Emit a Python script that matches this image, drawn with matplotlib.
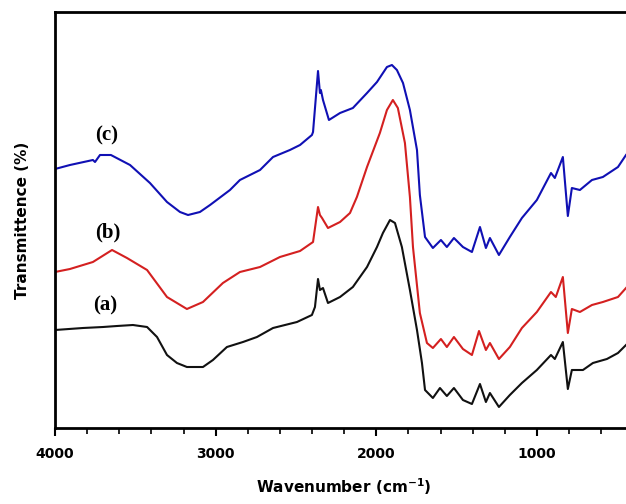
import matplotlib
matplotlib.use("Agg")
import matplotlib.pyplot as plt
from matplotlib.ticker import MultipleLocator, NullLocator

# Wavenumber (cm^-1) and transmittance (arbitrary units)
wn_c = [4000, 3907, 3764, 3751, 3720, 3652, 3533, 3409, 3303, 3222, 3172, 3098, 3035,
        2911, 2849, 2724, 2643, 2538, 2475, 2401, 2394, 2363, 2351, 2345, 2332, 2295,
        2226, 2146, 2058, 1996, 1934, 1903, 1872, 1834, 1791, 1747, 1729, 1697, 1648,
        1598, 1561, 1517, 1461, 1405, 1355, 1318, 1293, 1237, 1169, 1094, 1001, 913,
        889, 839, 808, 783, 733, 658, 590, 496, 446]
t_c = [259, 263, 268, 266, 273, 273, 263, 245, 226, 216, 213, 216, 223,
       238, 248, 258, 271, 278, 283, 293, 296, 357, 335, 338, 328, 308,
       315, 320, 335, 346, 361, 363, 358, 345, 318, 278, 233, 191, 180,
       188, 181, 190, 181, 176, 201, 180, 190, 173, 191, 210, 228, 255,
       250, 271, 212, 240, 238, 248, 251, 261, 273]

wn_b = [4000, 3907, 3764, 3645, 3552, 3427, 3303, 3179, 3079, 2955, 2849, 2724, 2600,
        2475, 2394, 2363, 2351, 2338, 2301, 2226, 2164, 2121, 2058, 1978, 1934, 1897,
        1866, 1822, 1791, 1772, 1729, 1685, 1648, 1598, 1561, 1517, 1461, 1405, 1361,
        1318, 1293, 1237, 1169, 1094, 1001, 913, 883, 839, 808, 783, 733, 658, 590,
        496, 446]
t_b = [156, 159, 166, 178, 170, 158, 131, 119, 126, 145, 156, 161, 171,
       177, 186, 221, 213, 210, 200, 206, 215, 231, 261, 295, 318, 328,
       320, 285, 231, 181, 115, 85, 80, 89, 81, 91, 79, 73, 97,
       78, 85, 69, 81, 100, 116, 136, 131, 151, 95, 119, 116, 123, 126,
       131, 140]

wn_a = [4000, 3826, 3701, 3614, 3515, 3427, 3365, 3303, 3241, 3179, 3079, 3017, 2930,
        2830, 2743, 2643, 2494, 2401, 2382, 2363, 2351, 2332, 2301, 2226, 2146, 2058,
        1996, 1959, 1915, 1884, 1841, 1791, 1747, 1716, 1697, 1648, 1604, 1561, 1517,
        1461, 1405, 1355, 1318, 1293, 1237, 1169, 1094, 1001, 913, 889, 839, 808, 783,
        714, 652, 565, 496, 446]
t_a = [98, 100, 101, 102, 103, 101, 91, 73, 65, 61, 61, 68, 81,
       86, 91, 100, 106, 113, 121, 149, 138, 140, 125, 131, 141, 161,
       181, 195, 208, 205, 181, 138, 98, 65, 38, 30, 40, 32, 40,
       28, 24, 44, 26, 35, 21, 33, 45, 58, 73, 69, 86, 39, 58,
       58, 65, 69, 75, 83]

labels = ["(a)", "(b)", "(c)"]
label_wn = [3689, 3670, 3676]
label_t = [123, 196, 293]

fig = plt.figure(figsize=(6.26, 5.04), dpi=100)
ax = fig.add_axes([55 / 626, 1 - 428 / 504, (633.4 - 55) / 626, 416 / 504])

ax.plot(wn_a, t_a, color="#111111", lw=1.5)
ax.plot(wn_b, t_b, color="#d42020", lw=1.5)
ax.plot(wn_c, t_c, color="#1010b4", lw=1.5)

for s, x, y in zip(labels, label_wn, label_t):
    ax.text(x, y, s, fontsize=15, fontweight="bold", family="Liberation Serif",
            ha="center", va="center")

ax.set_xlim(4000, 400)
ax.set_ylim(0, 416)
ax.xaxis.set_major_locator(MultipleLocator(1000))
ax.xaxis.set_minor_locator(MultipleLocator(200))
ax.yaxis.set_major_locator(NullLocator())
ax.tick_params(axis="x", which="major", direction="out", length=6, width=1.5,
               labelsize=10, pad=8)
ax.tick_params(axis="x", which="minor", direction="out", length=4, width=1.2)
for lab in ax.get_xticklabels():
    lab.set_fontweight("bold")
for sp in ax.spines.values():
    sp.set_linewidth(2)

ax.set_xlabel("Wavenumber (cm$^{\\mathbf{-1}}$)", fontsize=11, fontweight="bold", labelpad=11)
ax.set_ylabel("Transmittence (%)", fontsize=11, fontweight="bold", labelpad=18)

fig.savefig("out.png", dpi=100)
